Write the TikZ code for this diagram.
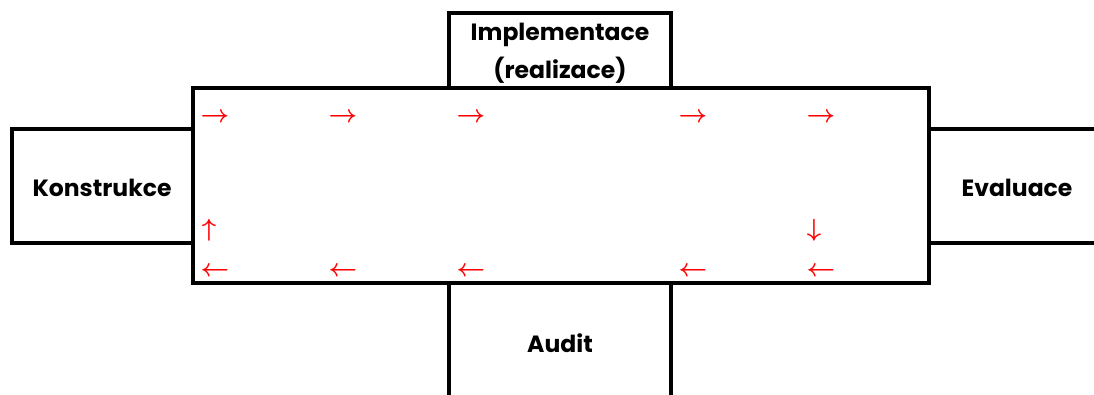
\documentclass[tikz,border=0pt]{standalone}
\usepackage{fontspec}
\setmainfont{Poppins}
\begin{document}
\begin{tikzpicture}[x=1pt,y=-1pt,
  frame/.style={line width=3.4pt,line cap=rect,line join=miter},
  lbl/.style={font=\fontsize{23.5}{38}\selectfont\bfseries,align=center,inner sep=0pt},
  arr/.style={text=red,font=\fontsize{25}{25}\selectfont\boldmath,inner sep=0pt}]
\useasboundingbox (0,0) rectangle (1094,394);
% boxes
\draw[frame] (193,88) rectangle (929,283);
\draw[frame] (449,88) -- (449,13) -- (671,13) -- (671,88);
\draw[frame] (193,129) -- (12,129) -- (12,243) -- (193,243);
\draw[frame] (929,129) -- (1096,129);
\draw[frame] (929,243) -- (1096,243);
\draw[frame] (449,283) -- (449,396);
\draw[frame] (671,283) -- (671,396);
% labels
\node[lbl] (impl) at (560,53) {Implementace\\(realizace)};
\node[lbl] (konst) at (102,188) {Konstrukce};
\node[lbl] (eval) at (1017,188) {Evaluace};
\node[lbl] (audit) at (560,343) {Audit};
% red arrows
\node[arr] (t1) at (215,118) {$\rightarrow$};
\node[arr] (t2) at (343,118) {$\rightarrow$};
\node[arr] (t3) at (471,118) {$\rightarrow$};
\node[arr] (t4) at (693,118) {$\rightarrow$};
\node[arr] (t5) at (821,118) {$\rightarrow$};
\node[arr] (b1) at (215,272) {$\leftarrow$};
\node[arr] (b2) at (343,272) {$\leftarrow$};
\node[arr] (b3) at (471,272) {$\leftarrow$};
\node[arr] (b4) at (693,272) {$\leftarrow$};
\node[arr] (b5) at (821,272) {$\leftarrow$};
\node[arr] (up) at (209,230) {$\uparrow$};
\node[arr] (dn) at (814,230) {$\downarrow$};
\end{tikzpicture}
\end{document}
